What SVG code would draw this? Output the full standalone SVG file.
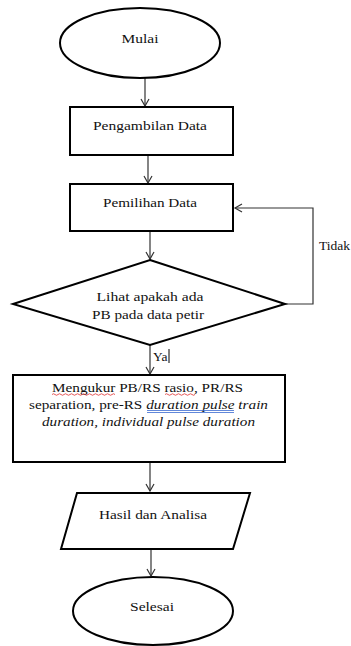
<svg xmlns="http://www.w3.org/2000/svg" width="351" height="646" viewBox="0 0 351 646" font-family="'Liberation Serif', 'DejaVu Serif', serif">
<style>
.shape{fill:#fff;stroke:#000;stroke-width:2}
.conn{fill:none;stroke:#333;stroke-width:1.2}
.t{font-size:13.5px;fill:#111}
.c{text-anchor:middle}
.i{font-style:italic}
</style>
<defs>
<marker id="arr" markerWidth="10" markerHeight="10" refX="8" refY="5" orient="auto" markerUnits="userSpaceOnUse">
<path d="M1,1 L8,5 L1,9" fill="none" stroke="#333" stroke-width="1.2"/>
</marker>
</defs>
<rect width="351" height="646" fill="#fff"/>
<g id="connectors">
<line class="conn" x1="145" y1="78" x2="145" y2="106" marker-end="url(#arr)"/>
<line class="conn" x1="148" y1="155" x2="148" y2="183" marker-end="url(#arr)"/>
<line class="conn" x1="150" y1="231" x2="150" y2="259" marker-end="url(#arr)"/>
<line class="conn" x1="150" y1="345" x2="150" y2="374" marker-end="url(#arr)"/>
<line class="conn" x1="150" y1="462" x2="150" y2="491" marker-end="url(#arr)"/>
<line class="conn" x1="151" y1="549" x2="151" y2="576" marker-end="url(#arr)"/>
<polyline class="conn" points="285,304 313,304 313,208 235,208" marker-end="url(#arr)"/>
<text class="t" x="153" y="361" font-family="Liberation Serif">Ya</text>
<line x1="169" y1="349" x2="169" y2="363" stroke="#000" stroke-width="1"/>
<text class="t" x="319" y="250" font-family="Liberation Serif">Tidak</text>
</g>
<g id="mulai">
<ellipse class="shape" cx="140" cy="43" rx="80" ry="35"/>
<text class="t c" x="140" y="43" font-family="Liberation Serif" textLength="37" lengthAdjust="spacingAndGlyphs">Mulai</text>
</g>
<g id="pengambilan">
<rect class="shape" x="70" y="107" width="163" height="48"/>
<text class="t c" x="150" y="130" font-family="Liberation Serif" textLength="114" lengthAdjust="spacingAndGlyphs">Pengambilan Data</text>
</g>
<g id="pemilihan">
<rect class="shape" x="70" y="184" width="163" height="47"/>
<text class="t c" x="150" y="207" font-family="Liberation Serif" textLength="94" lengthAdjust="spacingAndGlyphs">Pemilihan Data</text>
</g>
<g id="keputusan">
<polygon class="shape" points="150,260 285,304 150,345 13,304"/>
<text class="t c" x="150" y="301" font-family="Liberation Serif" textLength="107" lengthAdjust="spacingAndGlyphs">Lihat apakah ada</text>
<text class="t c" x="148" y="319" font-family="Liberation Serif" textLength="112" lengthAdjust="spacingAndGlyphs">PB pada data petir</text>
</g>
<g id="mengukur">
<rect class="shape" x="13" y="375" width="272" height="87"/>
<text class="t" x="52" y="392" font-family="Liberation Serif" textLength="191" lengthAdjust="spacingAndGlyphs">Mengukur PB/RS rasio, PR/RS</text>
<text class="t" x="29" y="409" font-family="Liberation Serif" textLength="239" lengthAdjust="spacingAndGlyphs">separation, pre-RS <tspan class="i">duration pulse train</tspan></text>
<text class="t i" x="42" y="426" font-family="Liberation Serif" textLength="213" lengthAdjust="spacingAndGlyphs">duration, individual pulse duration</text>
<path d="M52,394.5 q1.5,-1.5 3,0 t3,0 t3,0 t3,0 t3,0 t3,0 t3,0 t3,0 t3,0 t3,0 t3,0 t3,0 t3,0 t3,0 t3,0 t3,0 t3,0 t3,0 t3,0 t3,0 t3,0" fill="none" stroke="#e03030" stroke-width="0.8"/>
<path d="M165,394.5 q1.5,-1.5 3,0 t3,0 t3,0 t3,0 t3,0 t3,0 t3,0 t3,0 t3,0 t3,0" fill="none" stroke="#e03030" stroke-width="0.8"/>
<line x1="147" y1="410.5" x2="234" y2="410.5" stroke="#3a6ad0" stroke-width="0.8"/>
<line x1="147" y1="412.5" x2="234" y2="412.5" stroke="#3a6ad0" stroke-width="0.8"/>
</g>
<g id="hasil">
<polygon class="shape" points="77,493 250,493 233,549 61,549"/>
<text class="t c" x="153" y="519" font-family="Liberation Serif" textLength="108" lengthAdjust="spacingAndGlyphs">Hasil dan Analisa</text>
</g>
<g id="selesai">
<ellipse class="shape" cx="153" cy="611" rx="80" ry="34"/>
<text class="t c" x="152" y="611" font-family="Liberation Serif" textLength="44" lengthAdjust="spacingAndGlyphs">Selesai</text>
</g>
</svg>
